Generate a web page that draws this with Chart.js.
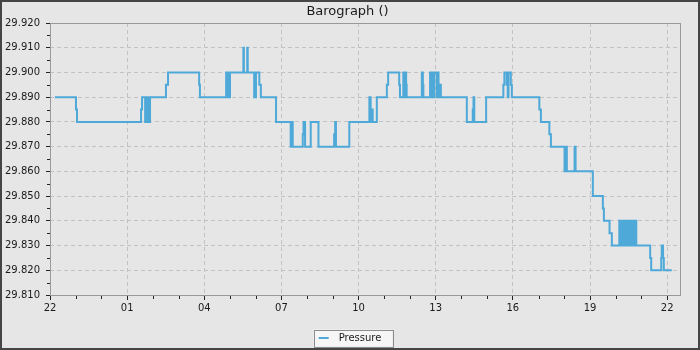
<!DOCTYPE html>
<html>
<head>
<meta charset="utf-8">
<script src="https://cdn.jsdelivr.net/npm/chart.js@4.4.0/dist/chart.umd.min.js"></script>
<style>
  html, body { margin: 0; padding: 0; background: #e6e6e6; }
  canvas { display: block; }
</style>
</head>
<body>
<canvas id="baro" width="700" height="350"></canvas>
<script>
// hours after 22:00 at which the reading changes, and the new reading (inHg)
const hours = [
  0.19, 1.01, 1.05, 3.54, 3.58, 3.70, 3.73, 3.77, 3.81, 3.85, 3.89,
  4.51, 4.59, 5.80, 5.83, 6.85, 6.88, 6.92, 6.96, 7.00,
  7.52, 7.54, 7.67, 7.69, 7.94, 8.01, 8.14, 8.20, 8.79,
  9.36, 9.40, 9.44, 9.83, 9.86, 9.92, 10.14, 10.44, 11.05, 11.09, 11.12, 11.64,
  12.42, 12.47, 12.51, 12.55, 12.71, 13.10, 13.15, 13.58, 13.61,
  13.74, 13.79, 13.81, 13.85, 13.87, 14.46, 14.50, 14.52,
  14.78, 14.82, 14.86, 14.90, 14.94, 15.04, 15.07, 15.11, 15.15, 15.20,
  16.21, 16.44, 16.47, 16.50, 16.96,
  17.63, 17.67, 17.76, 17.80, 17.83, 17.92, 17.96,
  19.03, 19.09, 19.42, 19.48, 20.01, 20.05, 20.10, 20.40, 20.44,
  21.11, 21.50, 21.54, 21.76, 21.85,
  22.14, 22.19, 22.23, 22.27, 22.31, 22.35, 22.39, 22.43, 22.46,
  22.50, 22.54, 22.58, 22.62, 22.66, 22.70, 22.74, 22.78, 22.80,
  23.34, 23.38, 23.77, 23.79, 23.84, 23.87, 24.18
];
const pressure = [
  29.890, 29.885, 29.880, 29.885, 29.890, 29.880, 29.890, 29.880, 29.890, 29.880, 29.890,
  29.895, 29.900, 29.895, 29.890, 29.900, 29.890, 29.900, 29.890, 29.900,
  29.910, 29.900, 29.910, 29.900, 29.890, 29.900, 29.895, 29.890, 29.880,
  29.870, 29.880, 29.870, 29.875, 29.880, 29.870, 29.880, 29.870, 29.875, 29.880, 29.870, 29.880,
  29.890, 29.880, 29.885, 29.880, 29.890, 29.895, 29.900, 29.895, 29.890,
  29.900, 29.890, 29.900, 29.895, 29.890, 29.900, 29.895, 29.890,
  29.900, 29.890, 29.900, 29.890, 29.900, 29.890, 29.900, 29.890, 29.895, 29.890,
  29.880, 29.885, 29.890, 29.880, 29.890,
  29.895, 29.900, 29.895, 29.890, 29.900, 29.895, 29.890,
  29.885, 29.880, 29.875, 29.870, 29.860, 29.870, 29.860, 29.870, 29.860,
  29.850, 29.845, 29.840, 29.835, 29.830,
  29.840, 29.830, 29.840, 29.830, 29.840, 29.830, 29.840, 29.830, 29.840,
  29.830, 29.840, 29.830, 29.840, 29.830, 29.840, 29.830, 29.840, 29.830,
  29.825, 29.820, 29.825, 29.830, 29.825, 29.820, 29.820
];
const xTickLabels = ['22', '01', '04', '07', '10', '13', '16', '19', '22'];

const lineColor = '#4ea9d9';
const font10 = { family: 'DejaVu Sans', size: 10 };
const isMajorX = v => v % 3 === 0;
const isMajorY = v => Math.round(v * 1000) % 10 === 0;

// short blue dash used as the legend marker, with some room around it
const marker = document.createElement('canvas');
marker.width = 20;
marker.height = 2;
const mctx = marker.getContext('2d');
mctx.fillStyle = lineColor;
mctx.fillRect(5, 0, 10, 2);

const frame = {
  id: 'frame',
  beforeDraw(chart) {
    const { ctx, width, height } = chart;
    ctx.save();
    ctx.fillStyle = '#e6e6e6';
    ctx.fillRect(0, 0, width, height);
    ctx.strokeStyle = '#454545';
    ctx.lineWidth = 2;
    ctx.strokeRect(1, 1, width - 2, height - 2);
    const hb = chart.legend && chart.legend.legendHitBoxes[0];
    if (hb) {
      const cy = hb.top + hb.height / 2;
      ctx.fillStyle = '#f6f6f6';
      ctx.fillRect(hb.left, cy - 8.5, hb.width + 11, 17);
      ctx.strokeStyle = '#8c8c8c';
      ctx.lineWidth = 1;
      ctx.strokeRect(Math.round(hb.left) + 0.5, Math.round(cy - 8.5) + 0.5, Math.round(hb.width + 11), 17);
    }
    ctx.restore();
  },
  afterDraw(chart) {
    const { ctx, chartArea: a, scales: { x, y } } = chart;
    ctx.save();
    ctx.strokeStyle = '#999';
    ctx.lineWidth = 1;
    ctx.strokeRect(Math.round(a.left) + 0.5, Math.round(a.top) + 0.5,
      Math.round(a.right - a.left), Math.round(a.bottom - a.top));
    // minor ticks (shorter than the labelled ones)
    ctx.strokeStyle = '#222';
    ctx.beginPath();
    x.ticks.forEach(t => {
      if (isMajorX(t.value)) return;
      const px = Math.round(x.getPixelForValue(t.value)) + 0.5;
      ctx.moveTo(px, a.bottom + 1);
      ctx.lineTo(px, a.bottom + 4);
    });
    y.ticks.forEach(t => {
      if (isMajorY(t.value)) return;
      const py = Math.round(y.getPixelForValue(t.value)) + 0.5;
      ctx.moveTo(a.left - 3, py);
      ctx.lineTo(a.left, py);
    });
    ctx.stroke();
    ctx.restore();
  }
};

new Chart(document.getElementById('baro'), {
  type: 'line',
  data: {
    datasets: [{
      label: 'Pressure',
      data: hours.map((h, i) => ({ x: h, y: pressure[i] })),
      borderColor: lineColor,
      backgroundColor: lineColor,
      borderWidth: 2,
      pointRadius: 0,
      stepped: 'before',
      fill: false
    }]
  },
  options: {
    responsive: false,
    animation: false,
    events: [],
    layout: { padding: { top: 0, left: 0, right: 5, bottom: -3 } },
    plugins: {
      title: {
        display: true,
        text: 'Barograph ()',
        color: '#1a1a1a',
        font: { family: 'DejaVu Sans', size: 13, weight: 'normal', lineHeight: 1.2 },
        padding: { top: 3.6, bottom: 3.8 }
      },
      legend: {
        position: 'bottom',
        labels: {
          font: font10,
          color: '#1a1a1a',
          usePointStyle: true,
          pointStyle: marker,
          pointStyleWidth: 20,
          boxHeight: 10,
          padding: 8
        }
      },
      tooltip: { enabled: false }
    },
    scales: {
      x: {
        type: 'linear',
        min: 0,
        max: 24.5,
        afterFit: s => { s.height = 58 - s.chart.legend.height; },
        border: { display: false, dash: [4, 3] },
        grid: {
          color: c => isMajorX(c.tick.value) ? '#c2c2c2' : 'transparent',
          tickColor: c => isMajorX(c.tick.value) ? '#222' : 'transparent',
          tickLength: 5
        },
        ticks: {
          stepSize: 1,
          includeBounds: false,
          autoSkip: false,
          maxRotation: 0,
          padding: 2,
          color: '#1a1a1a',
          font: font10,
          callback: v => isMajorX(v) ? xTickLabels[v / 3] : ''
        }
      },
      y: {
        type: 'linear',
        min: 29.81,
        max: 29.92,
        afterFit: s => { s.width = 50; },
        border: { display: false, dash: [4, 3] },
        grid: {
          color: c => isMajorY(c.tick.value) ? '#c2c2c2' : 'transparent',
          tickColor: c => isMajorY(c.tick.value) ? '#222' : 'transparent',
          tickLength: 4
        },
        ticks: {
          stepSize: 0.005,
          autoSkip: false,
          padding: 6,
          color: '#1a1a1a',
          font: font10,
          callback: v => isMajorY(v) ? v.toFixed(3) : ''
        }
      },
      spare: {
        type: 'linear',
        position: 'right',
        display: true,
        afterFit: s => { s.width = 15; },
        border: { display: false },
        grid: { display: false },
        ticks: { display: false }
      }
    }
  },
  plugins: [frame]
});
</script>
</body>
</html>
